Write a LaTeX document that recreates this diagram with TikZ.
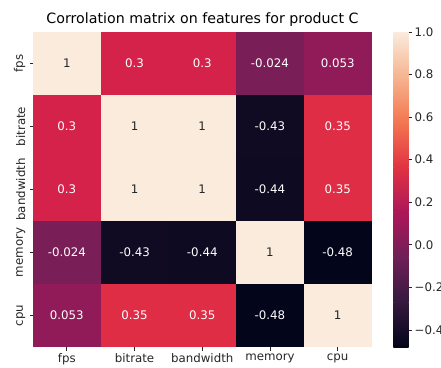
\documentclass[tikz,border=0pt]{standalone}
\usepackage{fontspec}
\setmainfont{DejaVu Sans}

% rocket colour map, sampled at k/7
\definecolor{rk0}{HTML}{03051A}
\definecolor{rk1}{HTML}{35193E}
\definecolor{rk2}{HTML}{701F57}
\definecolor{rk3}{HTML}{AD1759}
\definecolor{rk4}{HTML}{E13342}
\definecolor{rk5}{HTML}{F37651}
\definecolor{rk6}{HTML}{F6B48F}
\definecolor{rk7}{HTML}{FAEBDD}

% cell colours for the correlation values
\definecolor{vOne}{HTML}{FAEBDD}
\definecolor{vThreeA}{RGB}{212,34,74}
\definecolor{vThreeB}{RGB}{222,45,69}
\definecolor{vFps}{RGB}{144,27,88}
\definecolor{vMemFps}{RGB}{121,30,87}
\definecolor{vMemBit}{RGB}{16,11,35}
\definecolor{vMemBw}{RGB}{13,10,33}
\definecolor{vCpuMem}{RGB}{3,5,26}
\definecolor{darktext}{HTML}{262626}

\tikzset{
  cell/.style={minimum width=67.7pt, minimum height=63pt, inner sep=0pt,
    outer sep=0pt, font=\fontsize{11.8}{14}\selectfont},
  ticklabel/.style={inner sep=0pt, text=darktext, font=\fontsize{11.8}{14}\selectfont},
  tickmark/.style={draw=darktext, line width=0.8pt},
}

\newcommand\hmcell[5]{%
  \node[cell, fill=#3, text=#5] (cell#1#2)
    at ({33+67.7*(#2-0.5)}, {32+63*(#1-0.5)}) {#4};}

\begin{document}
\begin{tikzpicture}[x=1pt, y=-1pt]
\useasboundingbox (0,0) rectangle (441,367);

% title
\node[inner sep=0pt, text=black, font=\fontsize{14.2}{17}\selectfont] (title)
  at (202.5,20) {Corrolation matrix on features for product C};

% heat map cells
\hmcell{1}{1}{vOne}{1}{darktext}
\hmcell{1}{2}{vThreeA}{0.3}{white}
\hmcell{1}{3}{vThreeA}{0.3}{white}
\hmcell{1}{4}{vMemFps}{-0.024}{white}
\hmcell{1}{5}{vFps}{0.053}{white}

\hmcell{2}{1}{vThreeA}{0.3}{white}
\hmcell{2}{2}{vOne}{1}{darktext}
\hmcell{2}{3}{vOne}{1}{darktext}
\hmcell{2}{4}{vMemBit}{-0.43}{white}
\hmcell{2}{5}{vThreeB}{0.35}{white}

\hmcell{3}{1}{vThreeA}{0.3}{white}
\hmcell{3}{2}{vOne}{1}{darktext}
\hmcell{3}{3}{vOne}{1}{darktext}
\hmcell{3}{4}{vMemBw}{-0.44}{white}
\hmcell{3}{5}{vThreeB}{0.35}{white}

\hmcell{4}{1}{vMemFps}{-0.024}{white}
\hmcell{4}{2}{vMemBit}{-0.43}{white}
\hmcell{4}{3}{vMemBw}{-0.44}{white}
\hmcell{4}{4}{vOne}{1}{darktext}
\hmcell{4}{5}{vCpuMem}{-0.48}{white}

\hmcell{5}{1}{vFps}{0.053}{white}
\hmcell{5}{2}{vThreeB}{0.35}{white}
\hmcell{5}{3}{vThreeB}{0.35}{white}
\hmcell{5}{4}{vCpuMem}{-0.48}{white}
\hmcell{5}{5}{vOne}{1}{darktext}

% axis ticks and labels
\foreach \i/\lab in {1/fps,2/bitrate,3/bandwidth,4/memory,5/cpu}{
  \coordinate (xt\i) at ({33+67.7*(\i-0.5)},347);
  \draw[tickmark] (xt\i) -- ++(0,3.5);
  \node[ticklabel, anchor=north] (xl\i) at ({33+67.7*(\i-0.5)},353.5) {\lab};
  \coordinate (yt\i) at (33,{32+63*(\i-0.5)});
  \draw[tickmark] (yt\i) -- ++(-3.5,0);
  \node[ticklabel, anchor=south, rotate=90] (yl\i) at (25.5,{32+63*(\i-0.5)}) {\lab};
}

% colour bar
\foreach \k [evaluate=\k as \kn using int(\k+1)] in {0,...,6}{
  \path[bottom color=rk\k, top color=rk\kn, shading angle=0]
    (393.3,{347-315*\k/7}) rectangle (408.5,{347-315*(\k+1)/7});
}
\foreach \v/\lab [count=\j] in {1.0/1.0,0.8/0.8,0.6/0.6,0.4/0.4,0.2/0.2,0.0/0.0,-0.2/{−0.2},-0.4/{−0.4}}{
  \coordinate (cbt\j) at (408.5,{32+(1-\v)/1.48*315});
  \draw[tickmark] (cbt\j) -- ++(3.5,0);
  \node[ticklabel, anchor=west] (cbl\j) at (414.5,{32+(1-\v)/1.48*315}) {\lab};
}
\end{tikzpicture}
\end{document}
